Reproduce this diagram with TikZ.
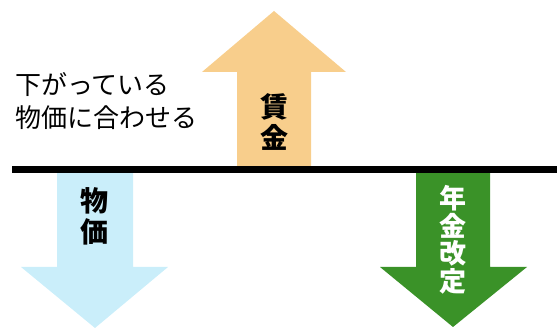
\documentclass[tikz,border=0pt]{standalone}
\usepackage{fontspec}
\newfontfamily\jpfont{Noto Sans CJK JP}
\usepackage{tikz}
\definecolor{wageorange}{RGB}{248,206,140}
\definecolor{priceblue}{RGB}{202,238,250}
\definecolor{pensiongreen}{RGB}{58,146,40}

\begin{document}
\begin{tikzpicture}[x=1pt,y=-1pt,
	vlabel/.style={font=\jpfont\bfseries\fontsize{28}{31}\selectfont, align=center, inner sep=0pt},
	note/.style={font=\jpfont\fontsize{26}{33}\selectfont, align=left, anchor=west, inner sep=0pt}]
			%%%%% START %%%%%
			\useasboundingbox (0, 0) rectangle (560, 328);
			
			% wage goes up
			\fill[wageorange] (237, 170) -- (237, 72) -- (202, 72) -- (274, 11) -- (346, 72) -- (311, 72) -- (311, 170) -- cycle;
			
			% prices go down
			\fill[priceblue] (57, 172) -- (57, 267) -- (21, 267) -- (95, 328) -- (168, 267) -- (133, 267) -- (133, 172) -- cycle;
			
			% pension revision goes down
			\fill[pensiongreen] (416, 172) -- (416, 267) -- (380, 267) -- (453, 327) -- (527, 267) -- (490, 267) -- (490, 172) -- cycle;
			
			\draw[line width=7pt] (12, 170) -- (557, 170);
			
			\node[vlabel] (wage) at (274, 122) {賃\\金};
			\node[vlabel] (price) at (94, 216) {物\\価};
			\node[vlabel, text=white, font=\jpfont\bfseries\fontsize{27}{27.5}\selectfont] (pension) at (453, 240) {年\\金\\改\\定};
			
			\node[note] (match) at (15, 101) {下がっている\\物価に合わせる};
			
			%%%%% END %%%%%
		\end{tikzpicture}
\end{document}
